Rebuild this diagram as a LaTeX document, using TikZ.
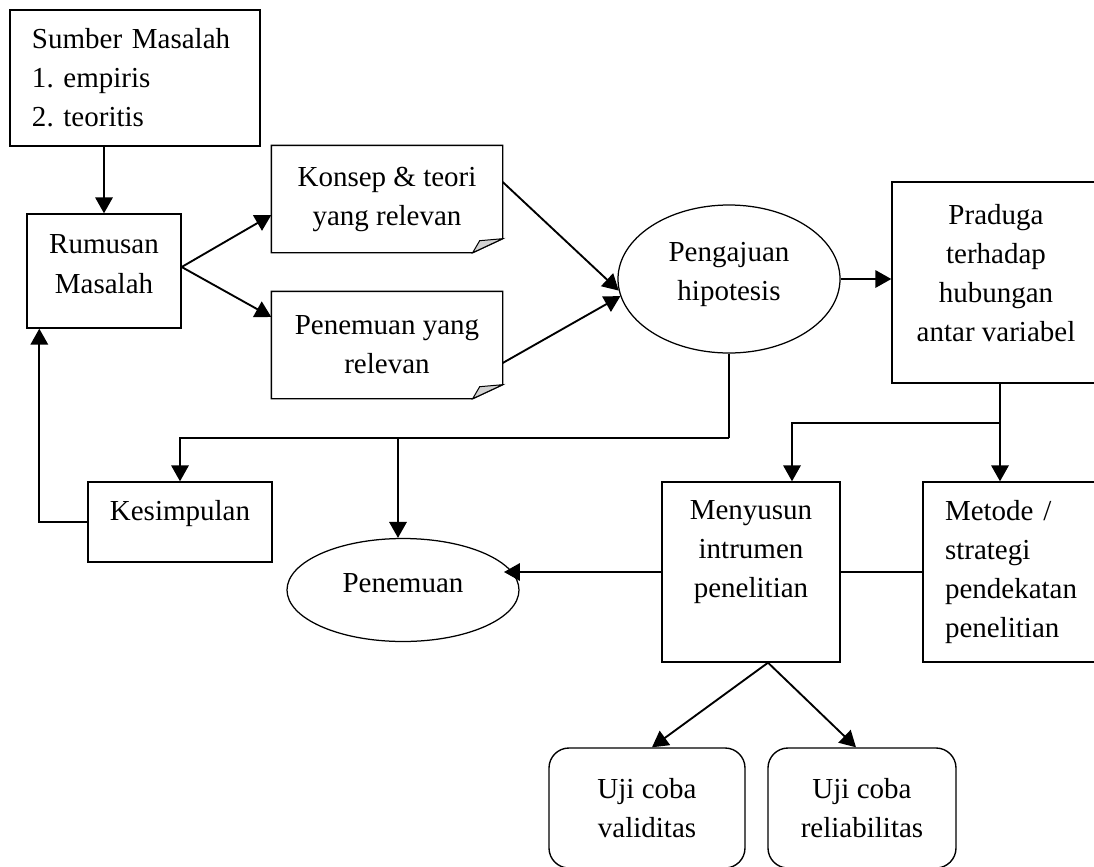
\documentclass[tikz,border=0pt]{standalone}
\usepackage{fontspec}
\setmainfont{Liberation Serif}
\usepackage{tikz}
\usetikzlibrary{shapes.geometric,arrows.meta,positioning,calc}

\begin{document}
\begin{tikzpicture}[x=0.4pt,y=-0.4pt,
  kotak/.style={draw,line width=0.55pt,inner sep=0pt,align=center,
    font=\fontsize{11.6pt}{15.6pt}\selectfont\frenchspacing},
  dokumen/.style={kotak,draw=none},
  lonjong/.style={ellipse,draw,line width=0.5pt,inner sep=0pt,align=center,
    font=\fontsize{11.6pt}{15.6pt}\selectfont},
  bulat/.style={kotak,rounded corners=8pt},
  arrow/.style={-{Triangle[length=6.4pt,width=7pt]},line width=0.75pt},
  garis/.style={line width=0.75pt},
]
  \useasboundingbox (0,0) rectangle (1094,867);

  \node[kotak,align=left,text width=82.4pt,inner xsep=8.8pt,minimum height=54.4pt]
    (sumber) at (135,78) {Sumber Masalah\\1. empiris\\2. teoritis};
  \node[kotak,minimum width=61.6pt,minimum height=45.6pt,text depth=5.6pt]
    (rumusan) at (104,271) {Rumusan\\Masalah};
  \node[dokumen,minimum width=92pt,minimum height=42.4pt] (konsep) at (387,199)
    {Konsep \& teori\\yang relevan};
  \node[dokumen,minimum width=92pt,minimum height=42.4pt] (relevan) at (387,345)
    {Penemuan yang\\relevan};
  \node[lonjong,minimum width=88.8pt,minimum height=59.2pt,text depth=6.4pt]
    (hipotesis) at (729,279) {Pengajuan\\hipotesis};
  \node[kotak,minimum width=83.2pt,minimum height=80.4pt,text depth=8pt]
    (praduga) at (996,282.5) {Praduga\\terhadap\\hubungan\\antar variabel};
  \node[kotak,minimum width=73.6pt,minimum height=32pt,text depth=9pt]
    (kesimpulan) at (180,522) {Kesimpulan};
  \node[lonjong,minimum width=92.8pt,minimum height=41.2pt,text depth=5.6pt]
    (penemuan) at (403,590) {Penemuan};
  \node[kotak,minimum width=71.2pt,minimum height=72pt,text depth=18.5pt]
    (menyusun) at (751,572) {Menyusun\\intrumen\\penelitian};
  \node[kotak,align=left,text width=53.2pt,inner xsep=8.8pt,minimum height=72pt]
    (metode) at (1011.5,572) {Metode /\\strategi\\pendekatan\\penelitian};
  \node[bulat,minimum width=78.4pt,minimum height=48pt] (validitas) at (647,808)
    {Uji coba\\validitas};
  \node[bulat,minimum width=75.2pt,minimum height=48pt] (reliabilitas) at (862,808)
    {Uji coba\\reliabilitas};

  % lembar dengan sudut terlipat
  \foreach \d in {konsep,relevan}{
    \draw[line width=0.55pt] (\d.north west) -- (\d.north east)
      -- ([yshift=5.6pt]\d.south east) -- ([xshift=-12pt]\d.south east)
      -- (\d.south west) -- cycle;
    \filldraw[fill=gray!35,line width=0.4pt] ([xshift=-12pt]\d.south east)
      -- ([xshift=-9.2pt,yshift=4.8pt]\d.south east)
      -- ([yshift=5.6pt]\d.south east) -- cycle;
  }

  \draw[arrow] (rumusan.north |- sumber.south) -- (rumusan.north);
  \draw[arrow] ([yshift=1.6pt]rumusan.east) -- ([yshift=-6.4pt]konsep.west);
  \draw[arrow] ([yshift=1.6pt]rumusan.east) -- ([yshift=11.2pt]relevan.west);
  \draw[arrow] ([yshift=6.8pt]konsep.east) -- (hipotesis.186);
  \draw[arrow] ([yshift=-7.2pt]relevan.east) -- (hipotesis.189);
  \draw[arrow] (hipotesis.east) -- (hipotesis.east -| praduga.west);

  \draw[garis] (hipotesis.south) -- ++(0,84) coordinate (simpang);
  \coordinate (puncak) at ([xshift=-2pt]penemuan.north);
  \draw[arrow] (simpang) -| (kesimpulan.north);
  \draw[arrow] (simpang -| puncak) -- (puncak);
  \draw[arrow] (kesimpulan.west) -| ([xshift=5.2pt]rumusan.south west);

  \draw[garis] ([xshift=1.6pt]praduga.south) -- ++(0,39) coordinate (bagi);
  \draw[arrow] (bagi) -- (bagi |- metode.north);
  \draw[arrow] (bagi) -| ([xshift=16.4pt]menyusun.north);
  \draw[line width=0.5pt] (metode.west) -- (menyusun.east);
  \draw[arrow] (menyusun.west) -- ([xshift=-3pt]menyusun.west -| penemuan.10);
  \draw[arrow] ([xshift=6.8pt]menyusun.south) -- ([xshift=2pt]validitas.north);
  \draw[arrow] ([xshift=6.8pt]menyusun.south) -- ([xshift=-2.4pt]reliabilitas.north);
\end{tikzpicture}
\end{document}
